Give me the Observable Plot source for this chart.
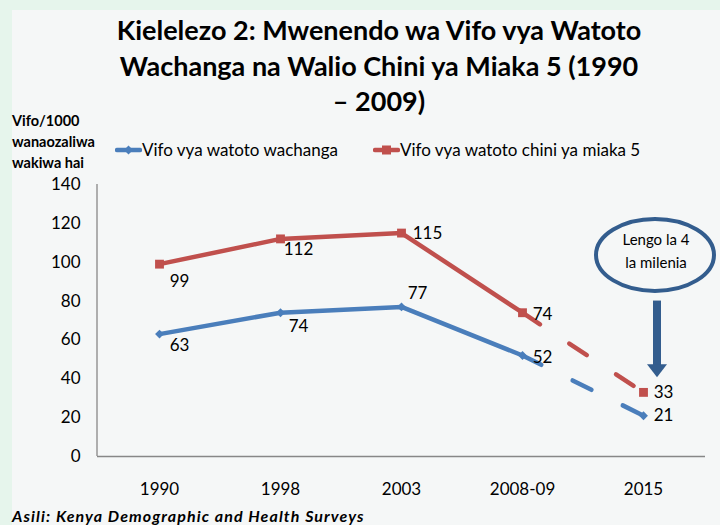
<!DOCTYPE html>
<html><head><meta charset="utf-8">
<script src="https://cdn.jsdelivr.net/npm/d3@7"></script>
<script src="https://cdn.jsdelivr.net/npm/@observablehq/plot@0.6"></script>
<style>
html,body{margin:0;padding:0;}
body{width:720px;height:525px;overflow:hidden;background:#e6f5ec;font-family:Lato,sans-serif;position:relative;color:#000;}
#panel{position:absolute;left:12px;top:10px;width:708px;height:515px;background:#f5f7f7;}
#title{position:absolute;left:79px;width:600px;top:12px;text-align:center;font-weight:bold;font-size:27px;line-height:35.5px;}
#ytitle{position:absolute;left:12px;top:110px;font-weight:bold;font-size:14.5px;line-height:21px;}
.leg{position:absolute;top:140px;height:20px;font-size:17px;line-height:20px;display:flex;align-items:center;white-space:nowrap;}
#caption{position:absolute;left:12px;top:507px;font-weight:bold;font-style:italic;font-size:16px;letter-spacing:1.1px;line-height:17px;white-space:nowrap;}
#chart{position:absolute;left:0;top:0;}
</style></head>
<body>
<div id="panel"></div>
<div id="chart"></div>
<div id="title"></div>
<div id="ytitle"></div>
<div id="leg1" class="leg" style="left:115px"></div>
<div id="leg2" class="leg" style="left:373px"></div>
<div id="caption"></div>
<script>
// ---- data ----
const categories = ["1990", "1998", "2003", "2008-09", "2015"];
const infantDeaths = [63, 74, 77, 52, 21];
const under5Deaths = [99, 112, 115, 74, 33];
const yTicks = [0, 20, 40, 60, 80, 100, 120, 140];
const seriesNames = ["Vifo vya watoto wachanga", "Vifo vya watoto chini ya miaka 5"];
const titleLines = ["Kielelezo 2: Mwenendo wa Vifo vya Watoto", "Wachanga na Walio Chini ya Miaka 5 (1990", "\u2013 2009)"];
const yTitleLines = ["Vifo/1000", "wanaozaliwa", "wakiwa hai"];
const captionText = "Asili: Kenya Demographic and Health Surveys";
const targetLines = ["Lengo la 4", "la milenia"];
const targetCategory = "2015";
const targetBubbleValue = 103.5;
const targetArrowFrom = 80;
const targetArrowTo = 40.5;

// ---- styles ----
const blue = "#4a7ebb", red = "#c0504d", navy = "#335d8e", axisGray = "#878787";
const rows = categories.map((c, i) => ({cat: c, infant: infantDeaths[i], under5: under5Deaths[i]}));
const lastSolid = 3; // projection (dashed) starts after 2008-09

document.getElementById("title").innerHTML = titleLines.join("<br>");
document.getElementById("ytitle").innerHTML = yTitleLines.join("<br>");
document.getElementById("caption").textContent = captionText;

function legendSwatch(color, symbol) {
  const s = d3.create("svg").attr("width", 27).attr("height", 12);
  s.append("line").attr("x1", 2).attr("x2", 25).attr("y1", 6).attr("y2", 6)
    .attr("stroke", color).attr("stroke-width", 4.5).attr("stroke-linecap", "round");
  if (symbol === "square") s.append("rect").attr("x", 9).attr("y", 1.5).attr("width", 9).attr("height", 9).attr("fill", color);
  else s.append("path").attr("d", "M13.5,1.5L18,6L13.5,10.5L9,6Z").attr("fill", color);
  return s.node();
}
const l1 = document.getElementById("leg1");
l1.appendChild(legendSwatch(blue, "diamond"));
l1.appendChild(document.createTextNode(seriesNames[0]));
const l2 = document.getElementById("leg2");
l2.appendChild(legendSwatch(red, "square"));
l2.appendChild(document.createTextNode(seriesNames[1]));

const blueOffsets = [[20, 11], [18, 14], [16, -13], [20, 2], [20, 0]];
const redOffsets = [[20, 17], [18, 11], [26, 0], [20, 2], [20, 0]];

function yAxisLine(index, scales, values, dim) {
  const g = d3.create("svg:g");
  g.append("line").attr("x1", dim.marginLeft).attr("x2", dim.marginLeft)
    .attr("y1", dim.marginTop).attr("y2", dim.height - dim.marginBottom)
    .attr("stroke", axisGray).attr("stroke-width", 1.3);
  return g.node();
}

function targetAnnotation(index, scales) {
  const cx = scales.x(targetCategory) + 12;
  const cy = scales.y(targetBubbleValue);
  const g = d3.create("svg:g");
  g.append("ellipse").attr("cx", cx).attr("cy", cy).attr("rx", 59).attr("ry", 36)
    .attr("fill", "none").attr("stroke", navy).attr("stroke-width", 4);
  targetLines.forEach((t, i) => {
    g.append("text").attr("x", cx + 1).attr("y", cy - 10 + i * 23)
      .attr("text-anchor", "middle").attr("font-size", 15).attr("font-family", "Lato")
      .attr("fill", "#000").text(t);
  });
  const ax = scales.x(targetCategory) + 14;
  const y0 = scales.y(targetArrowFrom), y1 = scales.y(targetArrowTo);
  const head = 13;
  g.append("rect").attr("x", ax - 4).attr("y", y0).attr("width", 8).attr("height", y1 - head - y0 + 1).attr("fill", navy);
  g.append("path").attr("d", `M${ax - 10},${y1 - head}L${ax + 10},${y1 - head}L${ax},${y1}Z`).attr("fill", navy);
  return g.node();
}

const lineOpts = {x: "cat", strokeWidth: 4.5, strokeLinecap: "round", strokeLinejoin: "round"};
const dash = "21,35";

const marks = [
  Plot.ruleY([0], {stroke: axisGray, strokeWidth: 1.3}),
  yAxisLine,
  Plot.axisY(yTicks, {tickSize: 0, tickPadding: 17, fontSize: 17, label: null}),
  Plot.axisX({tickSize: 0, tickPadding: 26, fontSize: 17, label: null}),
  Plot.line(rows.slice(0, lastSolid + 1), {...lineOpts, y: "infant", stroke: blue}),
  Plot.line(rows.slice(lastSolid), {...lineOpts, y: "infant", stroke: blue, strokeDasharray: dash}),
  Plot.line(rows.slice(0, lastSolid + 1), {...lineOpts, y: "under5", stroke: red}),
  Plot.line(rows.slice(lastSolid), {...lineOpts, y: "under5", stroke: red, strokeDasharray: dash}),
  Plot.dot(rows, {x: "cat", y: "infant", symbol: "diamond2", r: 4, fill: blue}),
  Plot.dot(rows, {x: "cat", y: "under5", symbol: "square", r: 5, fill: red}),
  ...rows.map((d, i) => Plot.text([d], {x: "cat", y: "infant", text: r => String(r.infant), dx: blueOffsets[i][0], dy: blueOffsets[i][1], fontSize: 17, fill: "#000"})),
  ...rows.map((d, i) => Plot.text([d], {x: "cat", y: "under5", text: r => String(r.under5), dx: redOffsets[i][0], dy: redOffsets[i][1], fontSize: 17, fill: "#000"})),
  targetAnnotation
];

const chart = Plot.plot({
  width: 720,
  height: 525,
  marginTop: 184,
  marginBottom: 69,
  marginLeft: 97,
  marginRight: 15,
  x: {type: "point", domain: categories, padding: 0.5, label: null},
  y: {domain: [0, 140], label: null},
  style: {background: "transparent", fontFamily: "Lato", fontSize: "17px", color: "#000", overflow: "visible"},
  marks
});
document.getElementById("chart").appendChild(chart);
</script>
</body></html>
